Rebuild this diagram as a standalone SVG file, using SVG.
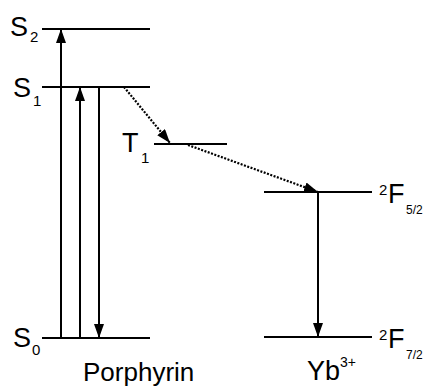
<svg xmlns="http://www.w3.org/2000/svg" width="430" height="391" viewBox="0 0 430 391">
<style>
.lvl{stroke:#000;stroke-width:2;fill:none}
.arr{stroke:#000;stroke-width:2;fill:none}
.dot{stroke:#000;stroke-width:2.2;fill:none;stroke-dasharray:2,1.5}
text{font-family:"Liberation Sans",Arial,sans-serif;fill:#000}
.big{font-size:27px}
.lab{font-size:26px}
.sm{font-size:15px}
.sup{font-size:14px}
.xs{font-size:12px}
</style>
<defs>
<marker id="ah" markerUnits="userSpaceOnUse" markerWidth="14" markerHeight="10" refX="14" refY="5" orient="auto" viewBox="0 0 14 10">
<path d="M0,0 L14,5 L0,10 z" fill="#000"/>
</marker>
</defs>
<rect width="430" height="391" fill="#fff"/>
<g id="S2"><line class="lvl" x1="42" y1="29" x2="150" y2="29"/><text class="big" x="10" y="36">S</text><text class="sm" x="30" y="42">2</text></g>
<g id="S1"><line class="lvl" x1="42" y1="87" x2="150" y2="87"/><text class="big" x="13" y="97">S</text><text class="sm" x="33" y="106">1</text></g>
<g id="S0"><line class="lvl" x1="42" y1="338" x2="150" y2="338"/><text class="big" x="13" y="347">S</text><text class="sm" x="32" y="355">0</text></g>
<g id="T1"><line class="lvl" x1="154" y1="144" x2="227" y2="144"/><text class="big" x="122" y="152">T</text><text class="sm" x="141" y="163">1</text></g>
<g id="F52"><line class="lvl" x1="264" y1="192" x2="372" y2="192"/><text class="sm" x="379" y="195">2</text><text class="big" x="388" y="203">F</text><text class="xs" x="406" y="214">5/2</text></g>
<g id="F72"><line class="lvl" x1="264" y1="337" x2="372" y2="337"/><text class="sm" x="379" y="340">2</text><text class="big" x="388" y="348">F</text><text class="xs" x="406" y="359">7/2</text></g>
<g id="porphyrin"><text class="lab" x="83" y="381">Porphyrin</text></g>
<g id="yb"><text class="big" x="307" y="380">Yb</text><text class="sup" x="340" y="367">3+</text></g>
<g id="connectors">
<line class="arr" x1="61" y1="338" x2="61" y2="29" marker-end="url(#ah)"/>
<line class="arr" x1="80" y1="338" x2="80" y2="87" marker-end="url(#ah)"/>
<line class="arr" x1="99" y1="87" x2="99" y2="338" marker-end="url(#ah)"/>
<line class="dot" x1="124" y1="87" x2="170" y2="143" marker-end="url(#ah)"/>
<line class="dot" x1="188" y1="145" x2="318" y2="192" marker-end="url(#ah)"/>
<line class="arr" x1="318" y1="192" x2="318" y2="337" marker-end="url(#ah)"/>
</g>
</svg>
